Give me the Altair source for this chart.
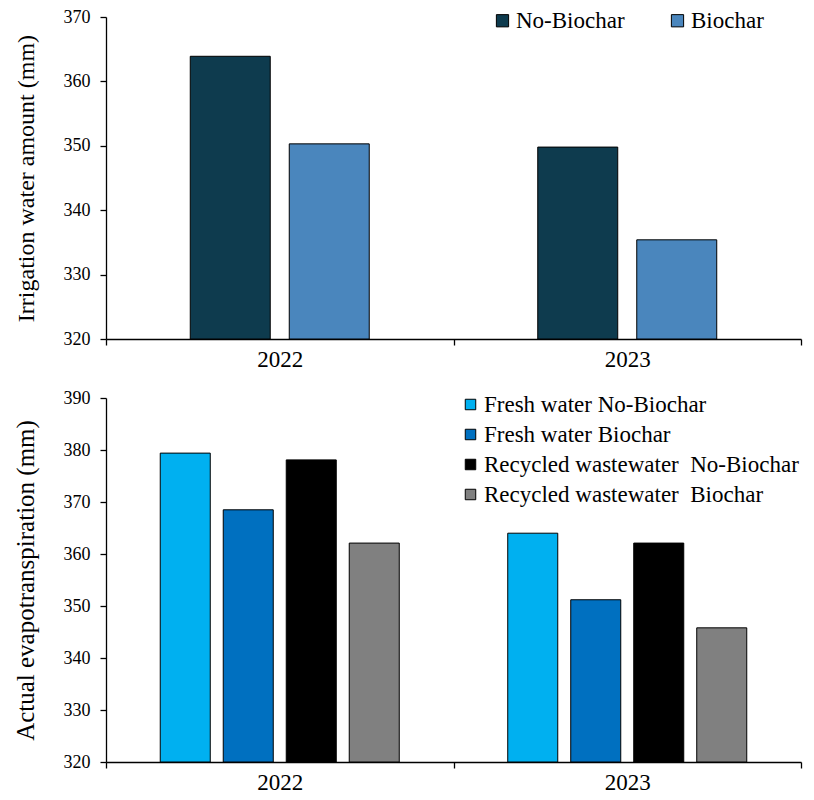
import altair as alt
import pandas as pd

# ---- data ----
years = ["2022", "2023"]

irr_series = ["No-Biochar", "Biochar"]
irr_no_biochar = [363.9, 349.8]
irr_biochar = [350.3, 335.4]

et_series = [
    "Fresh water No-Biochar",
    "Fresh water Biochar",
    "Recycled wastewater \u00a0No-Biochar",
    "Recycled wastewater \u00a0Biochar",
]
et_fresh_no_biochar = [379.4, 364.0]
et_fresh_biochar = [368.5, 351.2]
et_recycled_no_biochar = [378.1, 362.1]
et_recycled_biochar = [362.1, 345.8]

irr_colors = ["#0e3b4e", "#4a86bd"]
et_colors = ["#00b0f0", "#0070c0", "#000000", "#808080"]

FONT = "Liberation Serif"

top_rows = []
for i, y in enumerate(years):
    top_rows.append({"year": y, "series": irr_series[0], "value": irr_no_biochar[i]})
    top_rows.append({"year": y, "series": irr_series[1], "value": irr_biochar[i]})
top_df = pd.DataFrame(top_rows)

bot_rows = []
for i, y in enumerate(years):
    for s, vals in zip(et_series, [et_fresh_no_biochar, et_fresh_biochar,
                                   et_recycled_no_biochar, et_recycled_biochar]):
        bot_rows.append({"year": y, "series": s, "value": vals[i]})
bot_df = pd.DataFrame(bot_rows)

W = 695


def x_enc():
    return alt.X(
        "year:N", title=None,
        scale=alt.Scale(paddingInner=0, paddingOuter=0),
        axis=alt.Axis(labelAngle=0, tickBand="extent", tickSize=6,
                      labelFontSize=23, labelPadding=3),
    )


def y_axis(vals, title_size):
    return alt.Axis(values=vals, labelFontSize=18, labelPadding=10,
                    titleFontSize=title_size, titlePadding=25, tickSize=6)


def legend(**kw):
    return alt.Legend(title=None, orient="none", symbolType="square",
                      symbolStrokeColor="black",
                      symbolStrokeWidth=1, symbolOpacity=1,
                      labelFontSize=23, labelFont=FONT, labelColor="black",
                      labelLimit=500, **kw)


top = alt.Chart(top_df).mark_bar(stroke="black", strokeWidth=1).encode(
    x=x_enc(),
    xOffset=alt.XOffset("series:N", sort=irr_series,
                        scale=alt.Scale(domain=irr_series,
                                        paddingInner=0.192, paddingOuter=0.851)),
    y=alt.Y("value:Q", title="Irrigation water amount (mm)",
            scale=alt.Scale(domain=[320, 370], zero=False, nice=False),
            axis=y_axis([320, 330, 340, 350, 360, 370], 24)),
    y2=alt.datum(320),
    color=alt.Color("series:N", sort=irr_series,
                    scale=alt.Scale(domain=irr_series, range=irr_colors),
                    legend=legend(legendX=385, legendY=-8, direction="horizontal",
                                  columnPadding=41, symbolSize=150, labelOffset=2)),
).properties(width=W, height=322)

bottom = alt.Chart(bot_df).mark_bar(stroke="black", strokeWidth=1).encode(
    x=x_enc(),
    xOffset=alt.XOffset("series:N", sort=et_series,
                        scale=alt.Scale(domain=et_series,
                                        paddingInner=0.206, paddingOuter=0.861)),
    y=alt.Y("value:Q", title="Actual evapotranspiration (mm)",
            scale=alt.Scale(domain=[320, 390], zero=False, nice=False),
            axis=y_axis([320, 330, 340, 350, 360, 370, 380, 390], 25)),
    y2=alt.datum(320),
    color=alt.Color("series:N", sort=et_series,
                    scale=alt.Scale(domain=et_series, range=et_colors),
                    legend=legend(legendX=353, legendY=-5, direction="vertical",
                                  rowPadding=6, symbolSize=110, labelOffset=2)),
).properties(width=W, height=364)

chart = alt.vconcat(
    top, bottom, spacing=18, background="white",
    padding={"left": 5, "top": 0, "right": 2, "bottom": 0},
).resolve_scale(
    color="independent", xOffset="independent"
).resolve_legend(color="independent").configure_axis(
    labelFont=FONT, titleFont=FONT, labelColor="black", titleColor="black",
    domainColor="black", tickColor="black", grid=False,
    titleFontWeight="normal", domainWidth=1.3, tickWidth=1.3,
).configure_view(stroke=None)

chart.save("out.html", embed_options={"renderer": "svg", "actions": False})
